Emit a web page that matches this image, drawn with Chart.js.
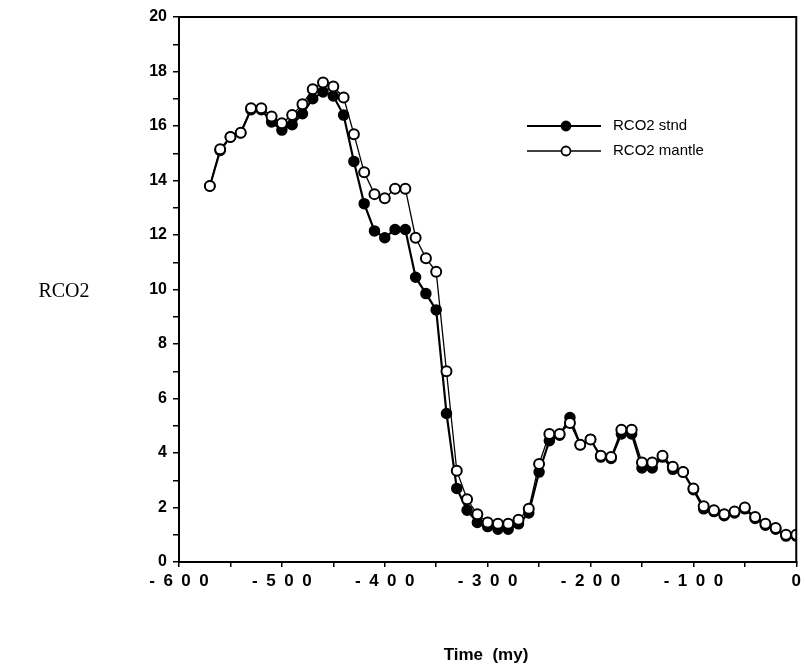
<!DOCTYPE html>
<html lang="en">
<head>
    <meta charset="UTF-8">
    <title>RCO2 vs Time</title>
    <style>
        body, html {
            margin: 0;
            padding: 0;
            background-color: #ffffff;
        }
        .wrap {
            width: 805px;
            height: 670px;
            position: relative;
        }
    </style>
</head>
<body>
    <div class="wrap">
        <canvas id="rcoChart"></canvas>
    </div>

    <script src="https://cdn.jsdelivr.net/npm/chart.js"></script>
    <script>
        // time in millions of years
        const timeMy = [
            -570, -560, -550, -540, -530, -520, -510, -500, -490, -480,
            -470, -460, -450, -440, -430, -420, -410, -400, -390, -380,
            -370, -360, -350, -340, -330, -320, -310, -300, -290, -280,
            -270, -260, -250, -240, -230, -220, -210, -200, -190, -180,
            -170, -160, -150, -140, -130, -120, -110, -100, -90, -80,
            -70, -60, -50, -40, -30, -20, -10, 0
        ];

        const rco2Stnd = [
            13.8, 15.1, 15.6, 15.75, 16.6, 16.6, 16.15, 15.85, 16.05, 16.45,
            17.0, 17.25, 17.1, 16.4, 14.7, 13.15, 12.15, 11.9, 12.2, 12.2,
            10.45, 9.85, 9.25, 5.45, 2.7, 1.9, 1.45, 1.3, 1.2, 1.2,
            1.4, 1.8, 3.3, 4.45, 4.65, 5.3, 4.3, 4.5, 3.85, 3.8,
            4.7, 4.7, 3.45, 3.45, 3.85, 3.4, 3.3, 2.65, 1.95, 1.85,
            1.7, 1.8, 1.95, 1.6, 1.35, 1.2, 0.95, 0.95
        ];

        const rco2Mantle = [
            13.8, 15.15, 15.6, 15.75, 16.65, 16.65, 16.35, 16.1, 16.4, 16.8,
            17.35, 17.6, 17.45, 17.05, 15.7, 14.3, 13.5, 13.35, 13.7, 13.7,
            11.9, 11.15, 10.65, 7.0, 3.35, 2.3, 1.75, 1.45, 1.4, 1.4,
            1.55, 1.95, 3.6, 4.7, 4.7, 5.1, 4.3, 4.5, 3.9, 3.85,
            4.85, 4.85, 3.65, 3.65, 3.9, 3.5, 3.3, 2.7, 2.05, 1.9,
            1.75, 1.85, 2.0, 1.65, 1.4, 1.25, 1.0, 1.0
        ];

        const seriesNames = ['RCO2 stnd', 'RCO2 mantle'];
        const xTitle = 'Time  (my)';
        const yTitle = 'RCO2';

        function toPoints(xs, ys) {
            return xs.map((x, i) => ({ x: x, y: ys[i] }));
        }

        // frame, axis titles and the little legend inside the plot
        const extras = {
            id: 'extras',
            afterDraw(chart) {
                const ctx = chart.ctx;
                const a = chart.chartArea;
                ctx.save();
                ctx.strokeStyle = '#000';
                ctx.lineWidth = 2;
                ctx.strokeRect(a.left, a.top, a.right - a.left, a.bottom - a.top);

                ctx.fillStyle = '#000';
                ctx.textAlign = 'center';
                ctx.textBaseline = 'middle';
                ctx.font = 'bold 17px "Liberation Sans", Arial, sans-serif';
                ctx.fillText(xTitle, 486, 655);

                ctx.font = '20px "Liberation Serif", "Times New Roman", serif';
                ctx.fillText(yTitle, 64, 292);

                // legend
                chart.data.datasets.forEach((ds, i) => {
                    const y = 126 + i * 25;
                    ctx.strokeStyle = '#000';
                    ctx.lineWidth = ds.borderWidth;
                    ctx.beginPath();
                    ctx.moveTo(527, y);
                    ctx.lineTo(601, y);
                    ctx.stroke();
                    ctx.beginPath();
                    ctx.arc(566, y, 4.5, 0, Math.PI * 2);
                    ctx.fillStyle = ds.pointBackgroundColor;
                    ctx.fill();
                    ctx.lineWidth = 1.8;
                    ctx.stroke();
                    ctx.fillStyle = '#000';
                    ctx.textAlign = 'left';
                    ctx.font = '15px "Liberation Sans", Arial, sans-serif';
                    ctx.fillText(ds.label, 613, y);
                });
                ctx.restore();
            }
        };

        new Chart(document.getElementById('rcoChart').getContext('2d'), {
            type: 'line',
            data: {
                datasets: [{
                    label: seriesNames[0],
                    data: toPoints(timeMy, rco2Stnd),
                    borderColor: '#000',
                    borderWidth: 2.2,
                    pointRadius: 5,
                    pointBackgroundColor: '#000',
                    pointBorderColor: '#000',
                    pointBorderWidth: 1.5,
                    tension: 0,
                    order: 1
                }, {
                    label: seriesNames[1],
                    data: toPoints(timeMy, rco2Mantle),
                    borderColor: '#000',
                    borderWidth: 1.3,
                    pointRadius: 5,
                    pointBackgroundColor: '#fff',
                    pointBorderColor: '#000',
                    pointBorderWidth: 2,
                    tension: 0,
                    order: 0
                }]
            },
            options: {
                responsive: true,
                maintainAspectRatio: false,
                animation: false,
                layout: {
                    padding: { left: 0, right: 8, top: 17, bottom: 0 }
                },
                plugins: {
                    legend: { display: false },
                    tooltip: { enabled: false }
                },
                scales: {
                    x: {
                        type: 'linear',
                        min: -600,
                        max: 0,
                        afterFit(scale) { scale.height = 108; },
                        border: { color: '#000', width: 2 },
                        grid: {
                            drawOnChartArea: false,
                            color: '#000',
                            lineWidth: 1.5,
                            tickLength: 5
                        },
                        ticks: {
                            stepSize: 50,
                            autoSkip: false,
                            maxRotation: 0,
                            padding: 4,
                            color: '#000',
                            font: { family: '"Liberation Sans", Arial, sans-serif', size: 17, weight: 'bold' },
                            callback: v => (v % 100 === 0 ? String(v).split('').join('\u2002') : '')
                        }
                    },
                    y: {
                        min: 0,
                        max: 20,
                        afterFit(scale) { scale.width = 179; },
                        border: { color: '#000', width: 2 },
                        grid: {
                            drawOnChartArea: false,
                            color: '#000',
                            lineWidth: 1.5,
                            tickLength: 6
                        },
                        ticks: {
                            stepSize: 1,
                            autoSkip: false,
                            padding: 6,
                            color: '#000',
                            font: { family: '"Liberation Sans", Arial, sans-serif', size: 16, weight: 'bold' },
                            callback: v => (v % 2 === 0 ? String(v) : '')
                        }
                    }
                }
            },
            plugins: [extras]
        });
    </script>
</body>
</html>
